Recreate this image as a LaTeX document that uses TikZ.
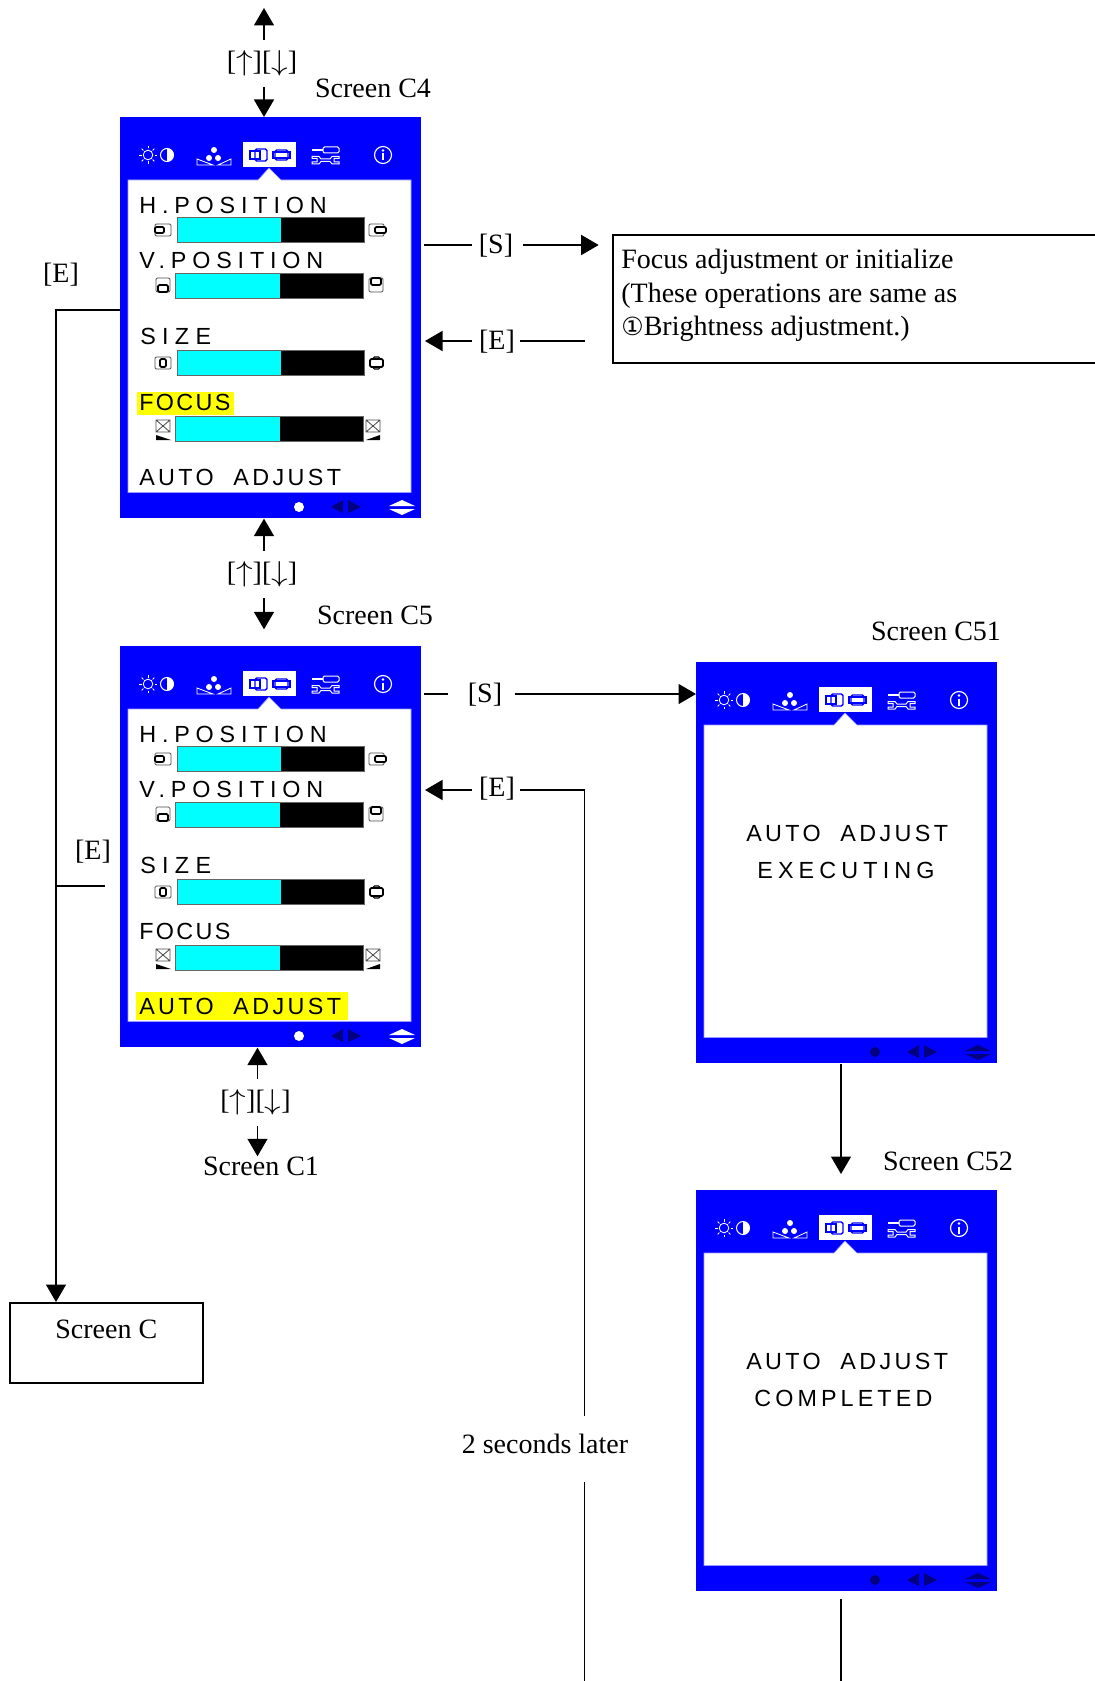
\documentclass[tikz,border=0pt]{standalone}
\usepackage{fontspec}
\setmainfont{Liberation Serif}
\newfontfamily\scrfont{Liberation Sans}
\newfontfamily\symfont{DejaVu Sans}
\usetikzlibrary{arrows.meta, positioning, calc}

\definecolor{panelblue}{RGB}{0,0,255}
\definecolor{panelnavy}{RGB}{0,0,128}
\definecolor{barcyan}{RGB}{0,255,255}
\definecolor{markyellow}{RGB}{255,255,0}

\tikzset{
	label text/.style={font=\fontsize{16.8}{20}\selectfont, inner xsep=4pt, inner ysep=0pt},
	bracket text/.style={label text, text height=13.2pt, text depth=3pt},
	key text/.style={label text, inner sep=0pt, minimum height=28.2pt},
	flow/.style={line width=0.9pt},
	flow arrow/.style={flow, -{Triangle[length=10.5pt,width=12pt]}},
	panelbox/.style={fill=panelblue, anchor=north west, inner sep=0pt,
		minimum width=180.6pt, minimum height=240.6pt},
	scr text/.style={anchor=base west, inner sep=0pt, font=\scrfont\fontsize{14}{16}\selectfont},
	bar edge/.style={draw=black!60, line width=0.5pt},
	tiny icon/.style={line width=0.5pt, rounded corners=0.8pt},
}

\newcommand{\keytext}{[\scalebox{1.15}[1]{$\uparrow$}][\scalebox{1.15}[1]{$\downarrow$}]\kern2.4pt}
\newcommand{\spaced}[2]{\addfontfeature{LetterSpace=#1}#2}

% blue frame with the icon row and the key row
\newcommand{\drawpanel}[4]{
	\node (#1) [panelbox] at (#2,#3) {};
	\begin{scope}[shift={(#2,#3)}]
		\fill [white] (123,25) rectangle (176,50);
		\fill [white, draw=blue!40!white, line width=0.4pt]
		(8,63) -- (138,63) -- (149,51) -- (161,63) -- (291,63) -- (291,375.5) -- (8,375.5) -- cycle;
		% brightness
		\draw [white, line width=0.5pt] (28,38) circle (4.8);
		\foreach \a in {0,45,...,315} {
			\draw [white, line width=0.5pt] ($(28,38)+(\a:6.5)$) -- ($(28,38)+(\a:9)$);
		}
		\draw [white, line width=0.6pt] (47,38) circle (6.5);
		\fill [white] (47,44.5) arc (90:-90:6.5) -- cycle;
		% colour
		\fill [white] (94,33) circle (3) (89,41) circle (3) (98,41) circle (3);
		\draw [white, line width=0.5pt] (77,42) -- (77,48) -- (93,48) -- cycle;
		\draw [white, line width=0.5pt] (111,42) -- (111,48) -- (98,48) -- cycle;
		% selected position icons
		\draw [panelblue, line width=0.8pt, rounded corners=1pt] (135,32) rectangle (147,44);
		\draw [panelblue, line width=0.8pt] (130,34) rectangle (140,42);
		\draw [panelblue, line width=0.8pt, rounded corners=1pt] (155,33) rectangle (168,43);
		\draw [panelblue, line width=0.8pt] (153,35) rectangle (170,41);
		% tools
		\draw [white, line width=1.5pt] (192,33) -- (203,33);
		\draw [white, line width=0.6pt, rounded corners=0.8pt] (203,30) rectangle (219,36);
		\draw [white, line width=0.6pt]
		(192,39.5) -- (199,39.5) -- (201,42) -- (210,42) -- (212,39.5) -- (219,39.5) -- (219,41.5) -- (214,41.5)
		-- (214,45) -- (219,45) -- (219,47) -- (212,47) -- (210,44.5) -- (201,44.5) -- (199,47) -- (192,47)
		-- (192,45) -- (197,45) -- (197,41.5) -- (192,41.5) -- cycle;
		% info
		\draw [white, line width=0.7pt] (263,38) circle (8.5);
		\fill [white] (263,33.5) circle (1.4);
		\draw [white, line width=1.5pt] (263,36.5) -- (263,43.5);
		% keys
		\fill [#4] (179,390) circle (5);
		\fill [panelnavy] (223,383) -- (211,390) -- (223,396) -- cycle;
		\fill [panelnavy] (228,383) -- (241,390) -- (228,396) -- cycle;
		\fill [#4] (269,389) -- (282,383) -- (295,389) -- cycle;
		\fill [#4] (269,392) -- (282,398) -- (295,392) -- cycle;
	\end{scope}
}

% position menu inside a panel
\newcommand{\drawmenu}[3]{
	\begin{scope}[shift={(#2,#3)}]
		\foreach \bx/\by/\cut/\ex in {57/100/161/244, 55/156/160/243.5, 57/233/161/244, 55/299/160/243.5} {
			\fill [barcyan] (\bx,\by) rectangle (\cut,\by+25);
			\fill [black] (\cut,\by) rectangle (\ex,\by+25);
			\draw [bar edge] (\bx,\by) rectangle (\ex,\by+25);
		}
		\node (#1-h) [scr text] at (19,96.5) {\spaced{25}{H.POSITION}};
		\node (#1-v) [scr text] at (19,151.5) {\spaced{25}{V.POSITION}};
		\node (#1-s) [scr text] at (20,227) {\spaced{27}{SIZE}};
		% small icons left and right of the bars
		\draw [tiny icon, black!70] (35,107) rectangle (51,119);
		\draw [tiny icon, fill=white, line width=1pt] (35,110) rectangle (44,116);
		\draw [tiny icon, black!70] (249,107) rectangle (264,119);
		\draw [tiny icon, fill=white, line width=1pt] (255,110) rectangle (266,116);
		\draw [tiny icon, black!70] (36,161) rectangle (50,175);
		\draw [tiny icon, fill=white, line width=1pt] (38,168) rectangle (48,175);
		\draw [tiny icon, black!70] (249,161) rectangle (263,175);
		\draw [tiny icon, fill=white, line width=1pt] (251,161) rectangle (261,168);
		\draw [tiny icon, black!70] (35,240) rectangle (51,252);
		\draw [tiny icon, line width=1pt] (40,242) rectangle (46,250);
		\draw [tiny icon, line width=0.7pt] (253,240) rectangle (260,252);
		\draw [tiny icon, fill=white, line width=1pt] (250,242) rectangle (263,250);
		\foreach \ix/\tall/\flat in {36/36/51, 246/260/246} {
			\draw [black!70, line width=0.5pt] (\ix,303) rectangle (\ix+14,315) (\ix,303) -- (\ix+14,315) (\ix,315) -- (\ix+14,303);
			\fill [black] (\tall,318) -- (\tall,323) -- (\flat,323) -- cycle;
		}
	\end{scope}
}

\begin{document}
\begin{tikzpicture}[x=0.6pt,y=-0.6pt]
	\useasboundingbox (0,0) rectangle (1095,1681);

	% Screen C4
	\drawpanel{cfour}{120}{117}{white}
	\drawmenu{cfourm}{120}{117}
	\fill [markyellow] (137,392) rectangle (234,415);
	\node (cfour-f) [scr text] at (139,410) {\spaced{10}{FOCUS}};
	\node (cfour-a) [scr text] at (139,485) {\spaced{14.4}{AUTO\ \ ADJUST}};

	% Screen C5
	\drawpanel{cfive}{120}{646}{white}
	\drawmenu{cfivem}{120}{646}
	\fill [markyellow] (136,992) rectangle (347.5,1020);
	\node (cfive-f) [scr text] at (139,939) {\spaced{10}{FOCUS}};
	\node (cfive-a) [scr text] at (139,1014) {\spaced{14.4}{AUTO\ \ ADJUST}};

	% Screen C51 and C52
	\drawpanel{cfo}{696}{662}{panelnavy}
	\node (cfo-a) [scr text] at (746,841) {\spaced{14.4}{AUTO\ \ ADJUST}};
	\node (cfo-e) [scr text] at (757,878) {\spaced{22}{EXECUTING}};
	\drawpanel{cft}{696}{1190}{panelnavy}
	\node (cft-a) [scr text] at (746,1369) {\spaced{14.4}{AUTO\ \ ADJUST}};
	\node (cft-c) [scr text] at (754,1406) {\spaced{17.6}{COMPLETED}};

	% screen names
	\node (namefour) [label text] at (373,88) {Screen C4};
	\node (namefive) [label text] at (375,615) {Screen C5};
	\node (nameone) [label text] at (261,1166) {Screen C1};
	\node (namefo) [label text] at (936,631) {Screen C51};
	\node (nameft) [label text] at (948,1161) {Screen C52};

	% boxes
	\node (focusbox) [draw, flow, anchor=west, minimum width=300pt, minimum height=76.8pt] at (612,299) {};
	\node (focustext) [label text, anchor=north west, align=flush left, inner sep=0pt] at (621,249)
		{Focus adjustment or initialize\\
		(These operations are same as\\
		{\symfont\fontsize{15}{20}\selectfont ①}Brightness adjustment.)};
	\node (screenc) [draw, flow, label text, anchor=north west, minimum width=115.8pt,
		minimum height=48pt, text height=11pt, text depth=16pt] at (9,1302) {Screen C};

	% up and down keys
	\node (keysa) [key text] at (264,63.5) {\keytext};
	\node (keysb) [key text] at (264,574.5) {\keytext};
	\node (keysc) [key text] at (257.5,1102.5) {\raisebox{1.2pt}{\keytext}};
	\coordinate (topend) at (264,8);
	\draw [flow arrow] (keysa.north) -- (topend);
	\draw [flow arrow] (keysa.south) -- (keysa.south |- cfour.north);
	\draw [flow arrow] (keysb.north) -- (keysb.north |- cfour.south);
	\draw [flow arrow, shorten >=10pt] (keysb.south) -- (keysb.south |- cfive.north);
	\draw [flow arrow] (keysc.north) -- (keysc.north |- cfive.south);
	\draw [flow arrow] (keysc.south) -- (keysc.south |- nameone.north);

	% Screen C4 to the box and back
	\node (sfour) [bracket text] at (496,245) {[S]};
	\node (efour) [bracket text] at (497,341) {[E]};
	\draw [flow, shorten <=1.5pt] (cfour.east |- sfour) -- (sfour.west);
	\draw [flow arrow, shorten <=2pt, shorten >=8pt] (sfour.east) -- (focusbox.west |- sfour);
	\draw [flow, shorten <=-1.2pt, shorten >=16pt] (efour.east) -- (focusbox.west |- efour);
	\draw [flow arrow, shorten >=2pt] (efour.west) -- (cfour.east |- efour);

	% Screen C5 to C51 and back
	\node (sfive) [bracket text, inner xsep=7.8pt] at (485,694) {[S]};
	\node (efive) [bracket text] at (497,788) {[E]};
	\node (later) [label text, inner ysep=10.8pt] at (545,1444) {2 seconds later};
	\coordinate (cornere) at (584.5,790);
	\coordinate (bottome) at (584.5,1681);
	\draw [flow, shorten <=1.5pt, shorten >=4.2pt] (cfive.east |- sfive) -- (sfive.west);
	\draw [flow arrow] (sfive.east) -- (cfo.west |- sfive);
	\draw [flow arrow, shorten >=2pt] (efive.west |- cornere) -- (cfive.east |- cornere);
	\draw [flow, shorten <=-1.2pt] (efive.east |- cornere) -- (cornere) -- (cornere |- later.north);
	\draw [flow, shorten <=6pt] (cornere |- later.south) -- (bottome);

	% Screen C51 to C52
	\coordinate (bottomc) at (841,1681);
	\draw [flow arrow, shorten >=9.6pt] (bottomc |- cfo.south) -- (bottomc |- cft.north);
	\draw [flow, shorten <=4.6pt] (bottomc |- cft.south) -- (bottomc);

	% exits to Screen C
	\node (eleft) [bracket text] at (61,274) {[E]};
	\node (eback) [bracket text] at (93,851) {[E]};
	\coordinate (turn) at (56,310);
	\coordinate (joint) at (56,886);
	\coordinate (jointend) at (105,886);
	\draw [flow arrow] (cfour.west |- turn) -- (turn) -- (turn |- screenc.north);
	\draw [flow] (joint) -- (jointend);
\end{tikzpicture}
\end{document}
